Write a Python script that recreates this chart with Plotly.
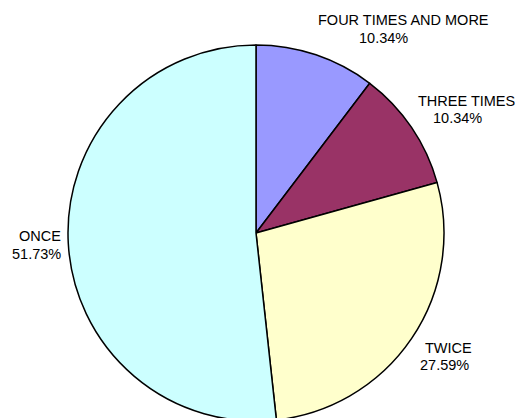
import plotly.graph_objects as go

categories = ["FOUR TIMES AND MORE", "THREE TIMES", "TWICE", "ONCE"]
values = [10.34, 10.34, 27.59, 51.73]
pct_labels = ["10.34%", "10.34%", "27.59%", "51.73%"]
colors = ["#9999FF", "#993366", "#FFFFCC", "#CCFFFF"]

W, H = 515, 424
# label line centres in pixels (x, y) for name line and percentage line
name_pos = [(403, 20), (466, 101), (448, 348), (40, 236)]
pct_pos = [(383, 38), (457, 118), (444, 365), (36, 254)]

cx, cy, r = 256, 233, 188

fig = go.Figure(go.Pie(
    labels=categories,
    values=values,
    marker=dict(colors=colors, line=dict(color="black", width=1.5)),
    sort=False,
    direction="clockwise",
    rotation=0,
    textinfo="none",
    hoverinfo="label+percent",
    showlegend=False,
    domain=dict(x=[(cx - r) / W, (cx + r) / W], y=[(H - cy - r) / H, (H - cy + r) / H]),
))

font = dict(family="Liberation Sans, Arial, sans-serif", size=14.5, color="black")
ann = []
for name, pct, (nx, ny), (px, py) in zip(categories, pct_labels, name_pos, pct_pos):
    ann.append(dict(text=name, x=nx / W, y=1 - ny / H, xref="paper", yref="paper",
                    showarrow=False, font=font, xanchor="center", yanchor="middle"))
    ann.append(dict(text=pct, x=px / W, y=1 - py / H, xref="paper", yref="paper",
                    showarrow=False, font=font, xanchor="center", yanchor="middle"))

fig.update_layout(
    width=W, height=H,
    margin=dict(l=0, r=0, t=0, b=0),
    paper_bgcolor="white",
    plot_bgcolor="white",
    annotations=ann,
)

fig.write_html("out.html", config={"displayModeBar": False},
               post_script="document.body.style.margin='0';document.body.style.overflow='hidden';document.documentElement.style.overflow='hidden';")
